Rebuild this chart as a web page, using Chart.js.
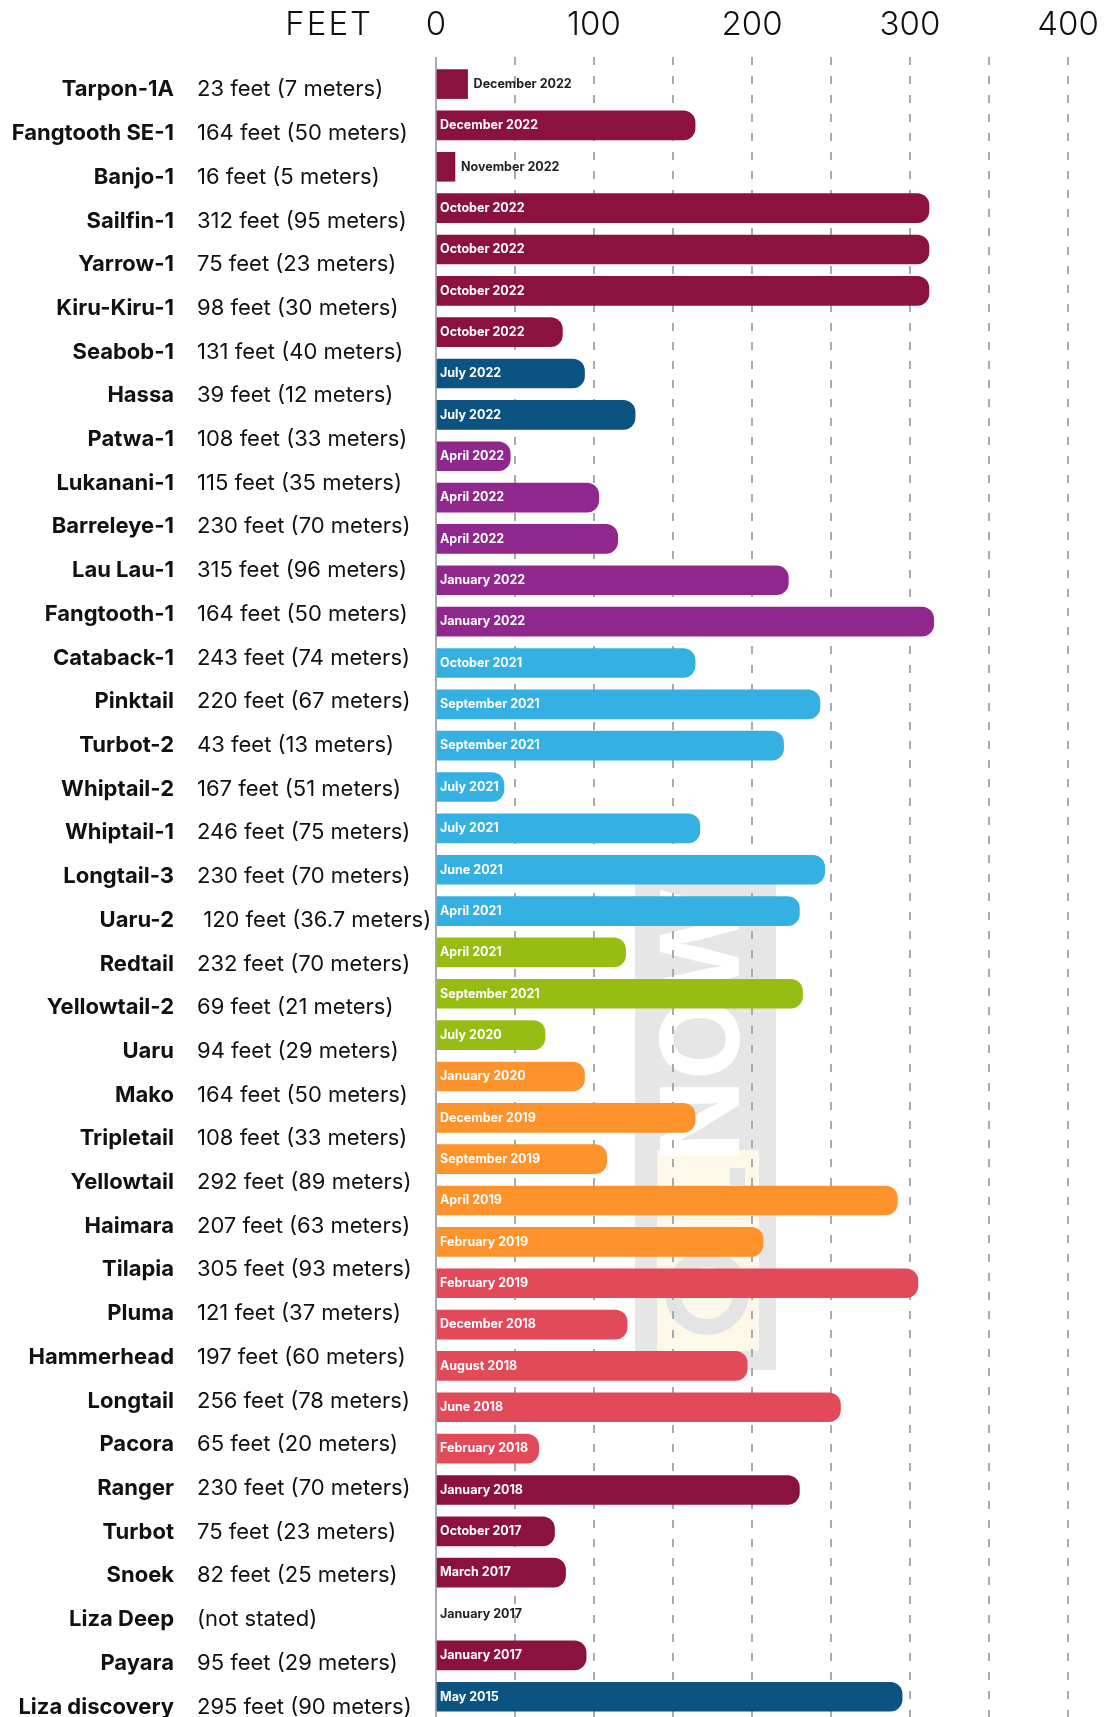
<!DOCTYPE html>
<html>
<head>
<meta charset="utf-8">
<script src="https://cdn.jsdelivr.net/npm/chart.js@4.4.1/dist/chart.umd.min.js"></script>
<style>
  html, body { margin: 0; padding: 0; background: #fff; overflow: hidden; }
  #wrap { width: 1106px; height: 1717px; position: relative; overflow: hidden; }
</style>
</head>
<body>
<div id="wrap"><canvas id="wells" width="1106" height="1717"></canvas></div>
<script>
// left-hand list of wells and their stated depths
const wellNames = ['Tarpon-1A', 'Fangtooth SE-1', 'Banjo-1', 'Sailfin-1', 'Yarrow-1', 'Kiru-Kiru-1',
  'Seabob-1', 'Hassa', 'Patwa-1', 'Lukanani-1', 'Barreleye-1', 'Lau Lau-1', 'Fangtooth-1',
  'Catab' + 'ack-1', 'Pinktail', 'Turbot-2', 'Whiptail-2', 'Whiptail-1', 'Longtail-3', 'Uaru-2',
  'Redtail', 'Yellowtail-2', 'Uaru', 'Mako', 'Tripletail', 'Yellowtail', 'Haimara', 'Tilapia',
  'Pluma', 'Hammerhead', 'Longtail', 'Pacora', 'Ranger', 'Turbot', 'Snoek', 'Liza Deep',
  'Payara', 'Liza discovery'];
const wellDepths = ['23 feet (7 meters)', '164 feet (50 meters)', '16 feet (5 meters)',
  '312 feet (95 meters)', '75 feet (23 meters)', '98 feet (30 meters)', '131 feet (40 meters)',
  '39 feet (12 meters)', '108 feet (33 meters)', '115 feet (35 meters)', '230 feet (70 meters)',
  '315 feet (96 meters)', '164 feet (50 meters)', '243 feet (74 meters)', '220 feet (67 meters)',
  '43 feet (13 meters)', '167 feet (51 meters)', '246 feet (75 meters)', '230 feet (70 meters)',
  ' 120 feet (36.7 meters)', '232 feet (70 meters)', '69 feet (21 meters)', '94 feet (29 meters)',
  '164 feet (50 meters)', '108 feet (33 meters)', '292 feet (89 meters)', '207 feet (63 meters)',
  '305 feet (93 meters)', '121 feet (37 meters)', '197 feet (60 meters)', '256 feet (78 meters)',
  '65 feet (20 meters)', '230 feet (70 meters)', '75 feet (23 meters)', '82 feet (25 meters)',
  '(not stated)', '95 feet (29 meters)', '295 feet (90 meters)'];

// bars: discovery month, net pay in feet, colour group
const barDates = ['December 2022', 'December 2022', 'November 2022', 'October 2022', 'October 2022',
  'October 2022', 'October 2022', 'July 2022', 'July 2022', 'April 2022', 'April 2022', 'April 2022',
  'January 2022', 'January 2022', 'October 2021', 'September 2021', 'September 2021', 'July 2021',
  'July 2021', 'June 2021', 'April 2021', 'April 2021', 'September 2021', 'July 2020', 'January 2020',
  'December 2019', 'September 2019', 'April 2019', 'February 2019', 'February 2019', 'December 2018',
  'August 2018', 'June 2018', 'February 2018', 'January 2018', 'October 2017', 'March 2017',
  'January 2017', 'January 2017', 'May 2015'];
const barFeet = [20, 164, 12, 312, 312, 312, 80, 94, 126, 47, 103, 115, 223, 315, 164, 243, 220, 43,
  167, 246, 230, 120, 232, 69, 94, 164, 108, 292, 207, 305, 121, 197, 256, 65, 230, 75, 82, null, 95, 295];
const barGroup = [0, 0, 0, 0, 0, 0, 0, 1, 1, 2, 2, 2, 2, 2, 3, 3, 3, 3, 3, 3, 3, 4, 4, 4, 5, 5, 5, 5, 5,
  6, 6, 6, 6, 6, 0, 0, 0, 0, 0, 1];
const feetTicks = [0, 100, 200, 300, 400];

const palette = ['#8B113E', '#0B5380', '#8F278C', '#35B0E2', '#97BD13', '#FE922B', '#E34A59'];
const gridGrey = '#A3ACB3';
const thinFont = { family: 'Inter', size: 33, weight: 300, lineHeight: 50 / 33 };

const decor = {
  id: 'decor',
  beforeDraw(chart) {
    // faded logo behind the grid
    const c = chart.ctx;
    c.save();
    c.fillStyle = '#E6E6E6';
    c.fillRect(635, 880, 141, 490);
    c.fillStyle = '#FDF8E8';
    c.fillRect(657, 1150, 102, 201);
    c.strokeStyle = '#E4E4E4';
    c.lineWidth = 16;
    c.beginPath();
    c.arc(707, 1293, 34, 0, Math.PI * 2);
    c.stroke();
    c.fillStyle = '#E4E4E4';
    c.fillRect(730, 1168, 15, 17);
    c.translate(707, 1025);
    c.rotate(-Math.PI / 2);
    c.fillStyle = '#fff';
    c.font = 'bold 108px Inter';
    c.textAlign = 'center';
    c.textBaseline = 'middle';
    c.fillText('NOW', 0, 0);
    c.restore();
  },
  beforeDatasetsDraw(chart) {
    const c = chart.ctx, x0 = chart.scales.x.getPixelForValue(0);
    c.save();
    c.strokeStyle = gridGrey;
    c.lineWidth = 2;
    c.beginPath();
    c.moveTo(x0, chart.chartArea.top);
    c.lineTo(x0, chart.chartArea.bottom);
    c.stroke();
    c.restore();
  },
  afterDatasetsDraw(chart) {
    const c = chart.ctx, xs = chart.scales.x, ys = chart.scales.y;
    const x0 = xs.getPixelForValue(0);
    c.save();
    c.font = 'bold 12.5px Inter';
    c.textBaseline = 'middle';
    c.textAlign = 'left';
    barDates.forEach((d, i) => {
      const y = ys.getPixelForValue(i);
      const v = barFeet[i];
      const w = c.measureText(d).width;
      if (v == null) {
        c.fillStyle = '#222';
        c.fillText(d, x0 + 4, y);
        return;
      }
      const end = xs.getPixelForValue(v);
      if (end - x0 < w + 2) {
        c.fillStyle = '#222';
        c.fillText(d, end + 6, y);
      } else {
        c.fillStyle = '#fff';
        c.fillText(d, x0 + 4, y);
      }
    });
    c.restore();
  },
  afterDraw(chart) {
    const c = chart.ctx, rows = chart.scales.rows, xs = chart.scales.x;
    const left = chart.chartArea.left;
    c.save();
    c.textBaseline = 'middle';
    c.fillStyle = '#111';
    wellNames.forEach((n, i) => {
      const y = rows.getPixelForValue(i);
      c.font = 'bold 22px Inter';
      c.textAlign = 'right';
      c.fillText(n, left - 262, y);
      c.font = '22px Inter';
      c.textAlign = 'left';
      c.fillText(wellDepths[i], left - 239, y);
    });
    c.font = '300 33px Inter';
    c.textAlign = 'right';
    c.letterSpacing = '2px';
    c.fillText('FEET', left - 63, (xs.top + xs.bottom) / 2);
    c.restore();
  }
};

new Chart(document.getElementById('wells'), {
  type: 'bar',
  data: {
    datasets: [{
      data: barFeet.map((v, i) => ({ x: v, y: i })),
      backgroundColor: barGroup.map(g => palette[g]),
      borderSkipped: 'start',
      borderRadius: ctx => (ctx.parsed && ctx.parsed.x > 30
        ? { topLeft: 0, bottomLeft: 0, topRight: 12, bottomRight: 12 } : 0),
      barThickness: 29
    }]
  },
  options: {
    indexAxis: 'y',
    responsive: false,
    animation: false,
    layout: { padding: { left: 436, right: 38, top: -7, bottom: 0 } },
    plugins: { legend: { display: false }, tooltip: { enabled: false } },
    scales: {
      x: {
        type: 'linear',
        position: 'top',
        min: 0,
        max: 400,
        ticks: {
          stepSize: 50,
          autoSkip: false,
          maxRotation: 0,
          padding: 7,
          color: '#111',
          font: thinFont,
          callback: v => (feetTicks.includes(v) ? v : '')
        },
        grid: {
          color: ctx => (ctx.tick && ctx.tick.value === 0 ? 'rgba(0,0,0,0)' : gridGrey),
          lineWidth: 2,
          drawTicks: false,
          borderDash: [8, 11]
        },
        border: { display: false, dash: [8, 11] }
      },
      y: { type: 'linear', reverse: true, offset: false, min: -0.655, max: 39.49, display: false },
      rows: { type: 'linear', axis: 'y', reverse: true, offset: false, min: -0.75, max: 37.23, display: false }
    }
  },
  plugins: [decor]
});
</script>
</body>
</html>
